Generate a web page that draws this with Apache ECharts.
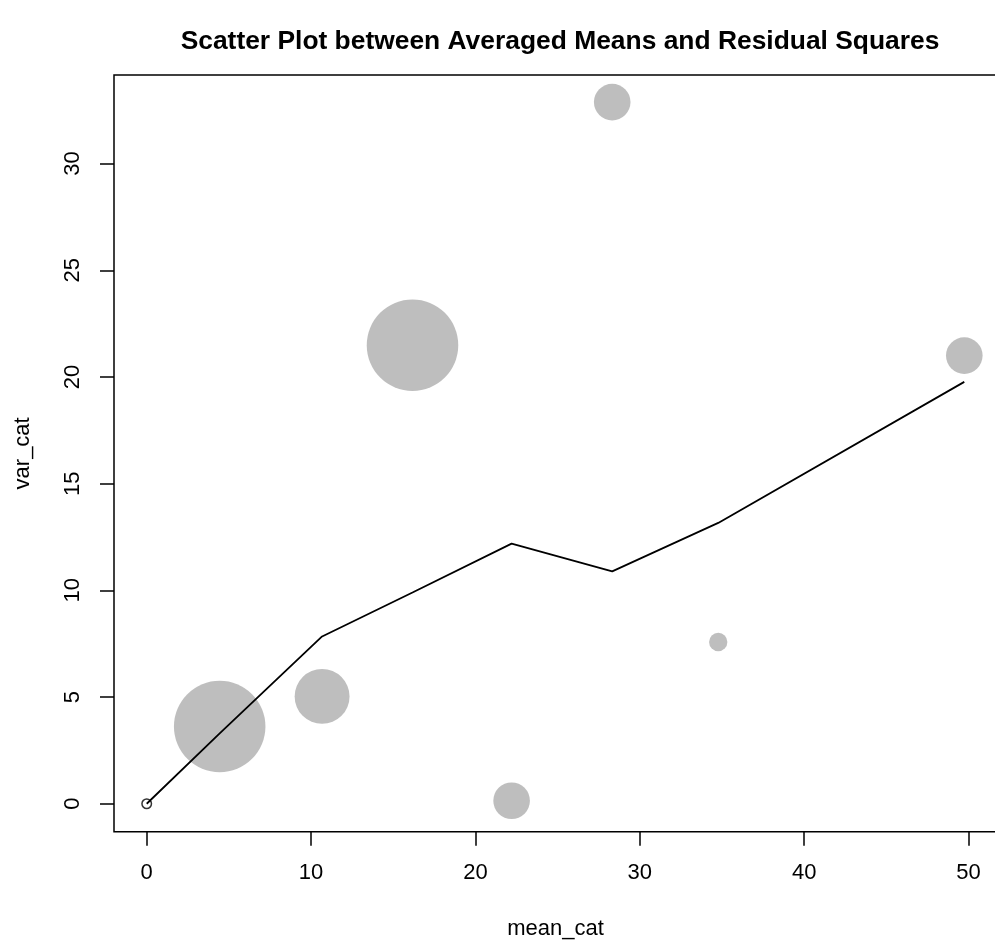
<!DOCTYPE html>
<html>
<head>
<meta charset="utf-8">
<script src="https://cdn.jsdelivr.net/npm/echarts@6/dist/echarts.min.js"></script>
<style>
html,body{margin:0;padding:0;background:#fff;}
#chart{width:995px;height:942px;}
</style>
</head>
<body>
<div id="chart"></div>
<script>
// ---- data ----
var mean_cat = [0, 4.44, 10.67, 16.17, 22.2, 28.32, 34.77, 49.74];
var var_cat  = [0, 3.62, 5.03, 21.49, 0.14, 32.88, 7.58, 21.0];
var weight   = [0, 5, 3, 5, 2, 2, 1, 2];          // bubble size factor (0 = plain point)
var fitted   = [0, 3.3, 7.84, 9.9, 12.19, 10.89, 13.16, 19.77];
var xTicks = [0, 10, 20, 30, 40, 50];
var yTicks = [0, 5, 10, 15, 20, 25, 30];

var FONT = 'Liberation Sans, Arial, Helvetica, sans-serif';

var bubbles = [], points = [], lineData = [];
for (var i = 0; i < mean_cat.length; i++) {
  if (weight[i] > 0) bubbles.push([mean_cat[i], var_cat[i], weight[i]]);
  else points.push([mean_cat[i], var_cat[i]]);
  lineData.push([mean_cat[i], fitted[i]]);
}

var chart = echarts.init(document.getElementById('chart'), null, {renderer: 'canvas'});
chart.setOption({
  animation: false,
  backgroundColor: '#ffffff',
  title: {
    text: 'Scatter Plot between Averaged Means and Residual Squares',
    left: 555, top: 24, textAlign: 'center',
    textStyle: {fontFamily: FONT, fontSize: 26.4, fontWeight: 'bold', color: '#000'}
  },
  grid: {
    left: 114, top: 75, width: 883, height: 756.7,
    show: true, borderColor: '#000', borderWidth: 1.5, backgroundColor: 'transparent',
    outerBoundsMode: 'none', containLabel: false
  },
  xAxis: {
    type: 'value', min: -1.99, max: 51.73,
    name: 'mean_cat', nameLocation: 'middle', nameGap: 86,
    nameTextStyle: {fontFamily: FONT, fontSize: 22, color: '#000'},
    splitLine: {show: false},
    axisLine: {show: false, onZero: false},
    axisTick: {show: true, inside: false, length: 14, customValues: xTicks,
               lineStyle: {color: '#000', width: 1.5}},
    axisLabel: {show: true, customValues: xTicks, margin: 30,
                fontFamily: FONT, fontSize: 22, color: '#000'}
  },
  yAxis: {
    type: 'value', min: -1.31, max: 34.15,
    name: 'var_cat', nameLocation: 'middle', nameGap: 80,
    nameTextStyle: {fontFamily: FONT, fontSize: 22, color: '#000'},
    splitLine: {show: false},
    axisLine: {show: false, onZero: false},
    axisTick: {show: true, inside: false, length: 14, customValues: yTicks,
               lineStyle: {color: '#000', width: 1.5}},
    axisLabel: {show: true, customValues: yTicks, rotate: 90, margin: 30,
                fontFamily: FONT, fontSize: 22, color: '#000'}
  },
  series: [
    {
      type: 'scatter', data: bubbles, symbol: 'circle',
      symbolSize: function (v) { return 18.3 * v[2]; },
      itemStyle: {color: '#BEBEBE', opacity: 1, borderWidth: 0},
      silent: true, z: 2
    },
    {
      type: 'line', data: lineData, showSymbol: false, symbol: 'none',
      lineStyle: {color: '#000', width: 1.8}, silent: true, z: 3
    },
    {
      type: 'scatter', data: points, symbol: 'circle', symbolSize: 9.5,
      itemStyle: {color: 'rgba(255,255,255,0)', borderColor: '#000', borderWidth: 1.5},
      silent: true, z: 4
    }
  ]
});
</script>
</body>
</html>
